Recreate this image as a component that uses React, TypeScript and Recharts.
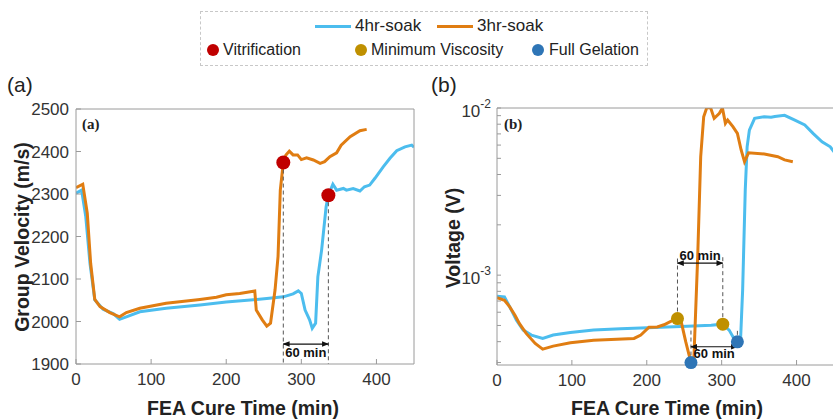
import React from "react";
import { LineChart, Line, XAxis, YAxis, ReferenceLine, ReferenceDot } from "recharts";

const TICK_FONT = '"Liberation Sans Narrow", "Liberation Sans", Arial, sans-serif';
const TITLE_FONT = '"Liberation Sans", Arial, sans-serif';
const BLUE = "#4cbdee";
const ORANGE = "#e07d12";
const VITRIF = "#c00000";
const MINVISC = "#bf9000";
const GEL = "#2e75b6";
const FRAME = "#9a9a9a";

// (a) group velocity, m/s
const tA4 = [0, 7.5, 13, 18.6, 25, 36, 50, 58, 67, 85, 120, 165, 200, 236, 254, 276, 289, 296, 300, 305, 311, 314.5, 319, 322, 327, 333, 336, 342, 347, 356, 360, 369, 378, 384, 391, 398, 409, 418, 427, 438, 447, 450];
const vA4 = [2302, 2309, 2247, 2137, 2051, 2029, 2018, 2005, 2011, 2023, 2031, 2039, 2046, 2051, 2054, 2058, 2065, 2072, 2066, 2027, 2004, 1984, 1996, 2105, 2168, 2270, 2297, 2323, 2309, 2313, 2309, 2313, 2307, 2317, 2321, 2337, 2364, 2384, 2402, 2411, 2415, 2410];
const tA3 = [0, 9, 15, 19.5, 25, 32, 45, 58, 67, 85, 120, 165, 187, 200, 218, 238, 240, 248, 254, 259, 265, 269, 272, 276, 279.5, 284, 289, 295, 300, 307, 316, 325, 331, 338, 347, 353, 365, 378, 387];
const vA3 = [2315, 2323, 2255, 2137, 2052, 2035, 2021, 2011, 2021, 2031, 2043, 2052, 2057, 2063, 2066, 2072, 2027, 2004, 1989, 1996, 2074, 2153, 2309, 2374, 2392, 2401, 2392, 2392, 2381, 2385, 2380, 2372, 2376, 2388, 2397, 2415, 2435, 2449, 2452];

// (b) voltage, V
const tB4 = [0, 10, 17, 26, 35, 46, 61, 75, 98, 129, 165, 210, 254, 286, 301, 310, 315, 321, 325, 328, 331.5, 334, 337, 344, 357, 366, 371, 384, 397, 411, 422, 434, 445, 450];
const vB4 = [0.000748, 0.000741, 0.000646, 0.000538, 0.000469, 0.000438, 0.000418, 0.000438, 0.000454, 0.000469, 0.000478, 0.000486, 0.000495, 0.000502, 0.000509, 0.000469, 0.000428, 0.000397, 0.00039, 0.000813, 0.00323, 0.00586, 0.00738, 0.00867, 0.00887, 0.0088, 0.0089, 0.00904, 0.00848, 0.00791, 0.00705, 0.00628, 0.00586, 0.00547];
const tB3 = [0, 10, 17, 24, 30, 39, 51, 61, 75, 98, 129, 183, 192, 203, 214, 223, 234, 241, 246, 252, 259, 263, 268, 272, 276, 280, 285, 290, 297, 301, 305, 308, 315, 321, 326, 330.5, 336, 357, 375, 384, 395];
const vB3 = [0.000734, 0.000708, 0.000646, 0.000575, 0.000513, 0.000448, 0.00039, 0.000361, 0.000376, 0.000394, 0.000408, 0.000418, 0.000438, 0.000488, 0.00049, 0.000505, 0.000535, 0.00055, 0.000525, 0.0004, 0.0003, 0.000325, 0.00129, 0.00511, 0.00887, 0.01, 0.0101, 0.00867, 0.0093, 0.01, 0.0081, 0.00848, 0.00773, 0.00705, 0.00561, 0.00477, 0.0054, 0.00531, 0.00511, 0.00489, 0.00477];

const vitrification = [{ t: 276, v: 2374 }, { t: 336, v: 2297 }];
const minViscosity = [{ t: 241, v: 0.00055 }, { t: 301.5, v: 0.000509 }];
const fullGelation = [{ t: 259, v: 0.0003 }, { t: 321, v: 0.000399 }];

const xTicks = [0, 100, 200, 300, 400];
const velTicks = [1900, 2000, 2100, 2200, 2300, 2400, 2500];
const voltMajor = [0.001, 0.01];
const voltTicks = [0.0003, 0.0004, 0.0005, 0.0006, 0.0007, 0.0008, 0.0009, 0.001, 0.002, 0.003, 0.004, 0.005, 0.006, 0.007, 0.008, 0.009, 0.01];

const pts = (t: number[], v: number[]) => t.map((x, i) => ({ t: x, v: v[i] }));

const arrowShape = (p: any) => (
  <line x1={p.x1} y1={p.y1} x2={p.x2} y2={p.y2} stroke="#111" strokeWidth={1.2}
    markerStart="url(#arrowHead)" markerEnd="url(#arrowHead)" />
);

const dashed = { stroke: "#555", strokeDasharray: "4 3", strokeWidth: 1 };
const minLabel = (position: string, offset: number) => ({
  value: "60 min", position, offset, fill: "#111", fontSize: 13, fontWeight: "bold", fontFamily: TITLE_FONT,
});

const LogTick = (props: any) => {
  const { x, y, payload } = props;
  if (!voltMajor.some((m) => Math.abs(m - payload.value) < 1e-9)) return <g />;
  const e = Math.round(Math.log10(payload.value));
  return (
    <text x={x} y={y + 9} textAnchor="end" fill="#333" fontSize={17} fontFamily={TICK_FONT}>
      <tspan>10</tspan>
      <tspan dy={-9} fontSize={12}>{e}</tspan>
    </text>
  );
};

const tickStyle = { fill: "#333", fontSize: 17, fontFamily: TICK_FONT };

const abs = (s: React.CSSProperties): React.CSSProperties => ({ position: "absolute", whiteSpace: "nowrap", ...s });

const PanelA = () => (
  <LineChart width={420} height={419} margin={{ top: 109, right: 6, bottom: 25, left: 0 }}>
    <XAxis xAxisId="x" dataKey="t" type="number" domain={[0, 450]} ticks={xTicks} allowDataOverflow
      stroke={FRAME} tickSize={-5} tickMargin={14} height={30} tick={tickStyle} interval={0} />
    <XAxis xAxisId="top" orientation="top" mirror dataKey="t" type="number" domain={[0, 450]} ticks={xTicks}
      allowDataOverflow stroke={FRAME} tickSize={5} tick={false} />
    <YAxis yAxisId="y" type="number" domain={[1900, 2500]} ticks={velTicks} allowDataOverflow
      stroke={FRAME} tickSize={-5} tickMargin={12} width={76} tick={tickStyle} interval={0} />
    <YAxis yAxisId="right" orientation="right" mirror type="number" domain={[1900, 2500]} ticks={velTicks}
      allowDataOverflow stroke={FRAME} tickSize={5} tick={false} />
    <Line xAxisId="x" yAxisId="y" data={pts(tA4, vA4)} dataKey="v" type="linear" stroke={BLUE}
      strokeWidth={3} dot={false} isAnimationActive={false} />
    <Line xAxisId="x" yAxisId="y" data={pts(tA3, vA3)} dataKey="v" type="linear" stroke={ORANGE}
      strokeWidth={3} dot={false} isAnimationActive={false} />
    {vitrification.map((d, i) => (
      <ReferenceLine key={`va${i}`} xAxisId="x" yAxisId="y" segment={[{ x: d.t, y: d.v }, { x: d.t, y: 1900 }]} {...dashed} />
    ))}
    <ReferenceLine xAxisId="x" yAxisId="y" segment={[{ x: 276, y: 1947 }, { x: 336, y: 1947 }]}
      shape={arrowShape} label={minLabel("bottom", 4)} />
    {vitrification.map((d, i) => (
      <ReferenceDot key={`vd${i}`} xAxisId="x" yAxisId="y" x={d.t} y={d.v} r={7} fill={VITRIF} stroke="none" />
    ))}
  </LineChart>
);

const PanelB = () => (
  <LineChart width={414} height={419} margin={{ top: 108, right: 0, bottom: 24, left: 0 }}>
    <XAxis xAxisId="x" dataKey="t" type="number" domain={[0, 450]} ticks={xTicks} allowDataOverflow
      stroke={FRAME} tickSize={-5} tickMargin={14} height={30} tick={tickStyle} interval={0} />
    <XAxis xAxisId="top" orientation="top" mirror dataKey="t" type="number" domain={[0, 450]} ticks={xTicks}
      allowDataOverflow stroke={FRAME} tickSize={5} tick={false} />
    <YAxis yAxisId="y" type="number" scale="log" domain={[0.00029, 0.01]} ticks={voltTicks} allowDataOverflow
      stroke={FRAME} tickSize={-4} tickMargin={10} width={77} tick={<LogTick />} interval={0} />
    <Line xAxisId="x" yAxisId="y" data={pts(tB4, vB4)} dataKey="v" type="linear" stroke={BLUE}
      strokeWidth={3} dot={false} isAnimationActive={false} />
    <Line xAxisId="x" yAxisId="y" data={pts(tB3, vB3)} dataKey="v" type="linear" stroke={ORANGE}
      strokeWidth={3} dot={false} isAnimationActive={false} />
    {minViscosity.map((d, i) => (
      <ReferenceLine key={`mv${i}`} xAxisId="x" yAxisId="y" segment={[{ x: d.t, y: d.v }, { x: d.t, y: 0.00128 }]} {...dashed} />
    ))}
    {fullGelation.map((d, i) => (
      <ReferenceLine key={`fg${i}`} xAxisId="x" yAxisId="y" segment={[{ x: d.t, y: d.v }, { x: d.t, y: 0.00047 }]} {...dashed} />
    ))}
    <ReferenceLine xAxisId="x" yAxisId="y" segment={[{ x: 241, y: 0.00118 }, { x: 301.5, y: 0.00118 }]}
      shape={arrowShape} label={minLabel("top", 3)} />
    <ReferenceLine xAxisId="x" yAxisId="y" segment={[{ x: 259, y: 0.000373 }, { x: 321, y: 0.000373 }]}
      shape={arrowShape} label={minLabel("bottom", 2)} />
    {minViscosity.map((d, i) => (
      <ReferenceDot key={`md${i}`} xAxisId="x" yAxisId="y" x={d.t} y={d.v} r={6.5} fill={MINVISC} stroke="none" />
    ))}
    {fullGelation.map((d, i) => (
      <ReferenceDot key={`gd${i}`} xAxisId="x" yAxisId="y" x={d.t} y={d.v} r={6.5} fill={GEL} stroke="none" />
    ))}
  </LineChart>
);

const App = () => {
  const legendText: React.CSSProperties = { fontFamily: TICK_FONT, color: "#222", lineHeight: "20px" };
  const titleStyle: React.CSSProperties = { fontFamily: TITLE_FONT, fontWeight: "bold", fontSize: 19.5, color: "#222" };
  return (
    <div style={{ position: "absolute", left: 0, top: 0, width: 833, height: 419, overflow: "hidden", background: "#fff" }}>
      <svg width={0} height={0} style={{ position: "absolute" }}>
        <defs>
          <marker id="arrowHead" viewBox="0 0 10 10" refX="9" refY="5" markerWidth="7" markerHeight="7"
            orient="auto-start-reverse" markerUnits="userSpaceOnUse">
            <path d="M0,1 L10,5 L0,9 z" fill="#111" />
          </marker>
        </defs>
      </svg>

      <div style={abs({ left: 200, top: 11, width: 448, height: 55, border: "1.5px dashed #c8c8c8", boxSizing: "border-box" })} />
      <div style={abs({ left: 315, top: 25, width: 36, height: 3, background: BLUE })} />
      <div style={abs({ ...legendText, left: 355, top: 16, fontSize: 17 })}>4hr-soak</div>
      <div style={abs({ left: 437, top: 25, width: 36, height: 3, background: ORANGE })} />
      <div style={abs({ ...legendText, left: 477, top: 16, fontSize: 17 })}>3hr-soak</div>
      <div style={abs({ left: 207, top: 44, width: 12, height: 12, borderRadius: 6, background: VITRIF })} />
      <div style={abs({ ...legendText, left: 223, top: 40, fontSize: 16 })}>Vitrification</div>
      <div style={abs({ left: 355, top: 44, width: 12, height: 12, borderRadius: 6, background: MINVISC })} />
      <div style={abs({ ...legendText, left: 371, top: 40, fontSize: 16 })}>Minimum Viscosity</div>
      <div style={abs({ left: 532, top: 44, width: 12, height: 12, borderRadius: 6, background: GEL })} />
      <div style={abs({ ...legendText, left: 549, top: 40, fontSize: 16 })}>Full Gelation</div>

      <div style={abs({ left: 7, top: 73, fontFamily: TICK_FONT, fontSize: 21, color: "#222" })}>(a)</div>
      <div style={abs({ left: 431, top: 73, fontFamily: TICK_FONT, fontSize: 21, color: "#222" })}>(b)</div>

      <div style={abs({ left: 0, top: 0 })}><PanelA /></div>
      <div style={abs({ left: 420, top: 0 })}><PanelB /></div>

      <div style={abs({ left: 82, top: 116, fontFamily: '"Liberation Serif", serif', fontWeight: "bold", fontSize: 15, color: "#222" })}>(a)</div>
      <div style={abs({ left: 504, top: 116, fontFamily: '"Liberation Serif", serif', fontWeight: "bold", fontSize: 15, color: "#222" })}>(b)</div>

      <div style={abs({ ...titleStyle, left: 22, top: 237, transform: "translate(-50%, -50%) rotate(-90deg)" })}>Group Velocity (m/s)</div>
      <div style={abs({ ...titleStyle, left: 453, top: 238, transform: "translate(-50%, -50%) rotate(-90deg)" })}>Voltage (V)</div>
      <div style={abs({ ...titleStyle, left: 243, top: 408, transform: "translate(-50%, -50%)" })}>FEA Cure Time (min)</div>
      <div style={abs({ ...titleStyle, left: 667, top: 408, transform: "translate(-50%, -50%)" })}>FEA Cure Time (min)</div>
    </div>
  );
};

export default App;
